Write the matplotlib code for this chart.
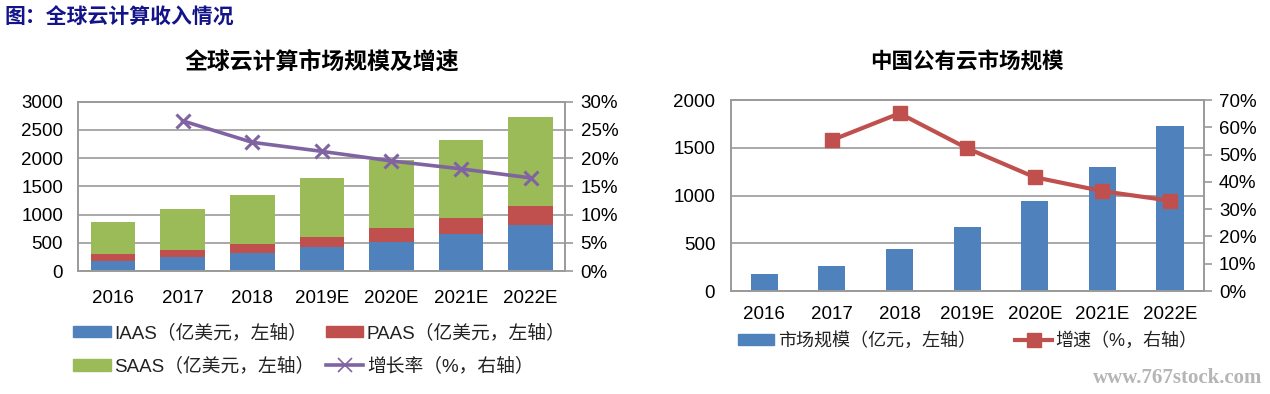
import matplotlib
matplotlib.use("Agg")
import matplotlib.pyplot as plt
import numpy as np
from matplotlib.patches import Patch
from matplotlib.lines import Line2D
from matplotlib.ticker import FuncFormatter, MultipleLocator

plt.rcParams['font.family'] = ['Liberation Sans', 'Noto Sans CJK SC', 'DejaVu Sans']

# ---------------- data ----------------
years = ['2016', '2017', '2018', '2019E', '2020E', '2021E', '2022E']
iaas = [180, 250, 320, 420, 515, 660, 810]
paas = [120, 130, 160, 190, 245, 285, 340]
saas = [570, 720, 870, 1040, 1210, 1385, 1575]
global_growth = [None, 26.6, 22.8, 21.2, 19.5, 18.1, 16.5]

cn_market = [175, 265, 437, 670, 942, 1295, 1728]
cn_growth = [None, 55.3, 65.1, 52.3, 41.7, 36.6, 33.1]

C_BLUE = '#4F81BD'
C_RED = '#C0504D'
C_GREEN = '#9BBB59'
C_PURPLE = '#8064A2'
C_GRID = '#9a9a9a'

W, H = 1270, 394
fig = plt.figure(figsize=(W / 100, H / 100), dpi=100)


def px_axes(left, top, right, bottom):
    return fig.add_axes([left / W, 1 - bottom / H, (right - left) / W, (bottom - top) / H])


def style_frame(ax, ax2):
    for a in (ax, ax2):
        for s in a.spines.values():
            s.set_color(C_GRID)
            s.set_linewidth(1.2)
    ax.yaxis.grid(True, color=C_GRID, linewidth=1.2)
    ax.set_axisbelow(True)
    ax.tick_params(axis='y', length=0, labelsize=13.5, pad=11)
    ax.tick_params(axis='x', length=0, labelsize=13.5)
    ax2.tick_params(axis='y', length=6, width=1.2, color=C_GRID, labelsize=13.5, pad=5)


pct = FuncFormatter(lambda v, p: f"{v:.0f}%")

# ---------------- left chart ----------------
ax = px_axes(78.4, 101.7, 565.3, 271)
x = np.arange(len(years))
bw = 0.64
ax.bar(x, iaas, bw, color=C_BLUE, zorder=2)
ax.bar(x, paas, bw, bottom=iaas, color=C_RED, zorder=2)
bottom3 = [a + b for a, b in zip(iaas, paas)]
ax.bar(x, saas, bw, bottom=bottom3, color=C_GREEN, zorder=2)
ax.set_xlim(-0.5, len(years) - 0.5)
ax.set_ylim(0, 3000)
ax.yaxis.set_major_locator(MultipleLocator(500))
ax.set_xticks(x)
ax.set_xticklabels(years)

ax2 = ax.twinx()
gx = [i for i, v in enumerate(global_growth) if v is not None]
gy = [v for v in global_growth if v is not None]
ax2.plot(gx, gy, color=C_PURPLE, lw=2.6, marker='x', markersize=10, markeredgewidth=2.2, zorder=3)
ax2.set_ylim(0, 30)
ax2.yaxis.set_major_locator(MultipleLocator(5))
ax2.yaxis.set_major_formatter(pct)
style_frame(ax, ax2)
ax.tick_params(axis='x', pad=14)

fig.text(321.7 / W, 1 - 62 / H, '全球云计算市场规模及增速', ha='center', va='center',
         fontsize=16.5, fontweight='bold', family=['Noto Sans CJK SC'])

handles_l = [Patch(color=C_BLUE), Patch(color=C_GREEN), Patch(color=C_RED),
             Line2D([], [], color=C_PURPLE, lw=2.6, marker='x', markersize=10, markeredgewidth=1.2)]
labels_l = ['IAAS（亿美元，左轴）', 'SAAS（亿美元，左轴）', 'PAAS（亿美元，左轴）', '增长率（%，右轴）']
leg = fig.legend(handles_l, labels_l, ncol=2, loc='upper left',
                 bbox_to_anchor=(73 / W, 1 - 324 / H), frameon=False,
                 fontsize=13.5, handlelength=2.0, handleheight=0.55, handletextpad=0.2,
                 columnspacing=0.6, labelspacing=0.85, borderpad=0, borderaxespad=0)
for t in leg.get_texts():
    t.set_color('#222222')

# ---------------- right chart ----------------
bx = px_axes(730.5, 100, 1203.8, 291)
bx.bar(x, cn_market, 0.40, color=C_BLUE, zorder=2)
bx.set_xlim(-0.5, len(years) - 0.5)
bx.set_ylim(0, 2000)
bx.yaxis.set_major_locator(MultipleLocator(500))
bx.set_xticks(x)
bx.set_xticklabels(years)

bx2 = bx.twinx()
cx = [i for i, v in enumerate(cn_growth) if v is not None]
cy = [v for v in cn_growth if v is not None]
bx2.plot(cx, cy, color=C_RED, lw=3, marker='s', markersize=10, zorder=3)
bx2.set_ylim(0, 70)
bx2.yaxis.set_major_locator(MultipleLocator(10))
bx2.yaxis.set_major_formatter(pct)
style_frame(bx, bx2)
bx.tick_params(axis='x', pad=11)

fig.text(967 / W, 1 - 62 / H, '中国公有云市场规模', ha='center', va='center',
         fontsize=15.5, fontweight='bold', family=['Noto Sans CJK SC'])

handles_r = [Patch(color=C_BLUE),
             Line2D([], [], color=C_RED, lw=3, marker='s', markersize=10)]
labels_r = ['市场规模（亿元，左轴）', '增速（%，右轴）']
leg2 = fig.legend(handles_r, labels_r, ncol=2, loc='upper left',
                  bbox_to_anchor=(738 / W, 1 - 332 / H), frameon=False,
                  fontsize=13, handlelength=2.0, handleheight=0.55, handletextpad=0.2,
                  columnspacing=2.2, borderpad=0, borderaxespad=0)
for t in leg2.get_texts():
    t.set_color('#222222')

# ---------------- header & watermark ----------------
fig.text(5 / W, 1 - 17 / H, '图：全球云计算收入情况', ha='left', va='center',
         fontsize=15, fontweight='bold', color='#14148a', family=['Noto Sans CJK SC'])
fig.text(1262 / W, 1 - 378 / H, 'www.767stock.com', ha='right', va='center',
         fontsize=15, fontweight='bold', color='#b5b5b5', family=['Liberation Serif'])

fig.savefig('out.png', dpi=100)
